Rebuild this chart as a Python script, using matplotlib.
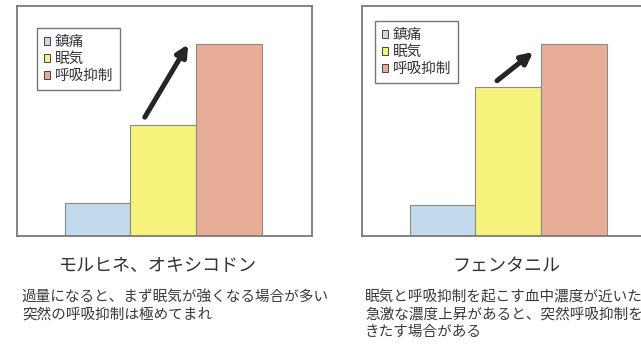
import numpy as np
import matplotlib
matplotlib.use("Agg")
from matplotlib import pyplot as plt

plt.rcParams['font.family'] = ['Noto Sans CJK JP', 'DejaVu Sans']

# data
labels = ['鎮痛', '眠気', '呼吸抑制']
colors = ['#c3daec', '#f7f27c', '#e7ad97']
left_vals = [17, 58, 100]
right_vals = [16, 78, 100]

left_title = 'モルヒネ、オキシコドン'
right_title = 'フェンタニル'
left_caption = '過量になると、まず眠気が強くなる場合が多い\n突然の呼吸抑制は極めてまれ'
right_caption = ('眠気と呼吸抑制を起こす血中濃度が近いため\n'
                 '急激な濃度上昇があると、突然呼吸抑制を\nきたす場合がある')

# arrows (start, end) in data coords
left_arrow = [(0.72, 62), (1.38, 100)]
right_arrow = [(0.83, 81), (1.38, 96)]

fig = plt.figure(figsize=(6.41, 3.45), dpi=100)

def panel(rect, vals, arrow, legend_anchor):
    ax = fig.add_axes(rect)
    x = np.arange(len(vals))
    ax.bar(x, vals, width=1.0, color=colors, edgecolor='#8a8a8a',
           linewidth=0.8, label=labels)
    ax.set_xlim(-1.225, 3.265)
    ax.set_ylim(0, 120)
    ax.set_xticks([])
    ax.set_yticks([])
    for s in ax.spines.values():
        s.set_color('#7a7a7a')
        s.set_linewidth(1.3)
    ax.annotate('', xy=arrow[1], xytext=arrow[0],
                arrowprops=dict(arrowstyle='-|>', color='#252525', lw=3.6,
                                mutation_scale=17, shrinkA=0, shrinkB=0))
    handles = [plt.Rectangle((0, 0), 1, 1, facecolor=c, edgecolor='#444444', lw=0.7)
               for c in colors]
    leg = ax.legend(handles, labels, loc='upper left', bbox_to_anchor=legend_anchor,
                    fontsize=10.5, frameon=True, fancybox=False, handlelength=0.4,
                    handleheight=0.4, handletextpad=0.3, labelspacing=0.2,
                    borderpad=0.5, borderaxespad=0)
    leg.get_frame().set_edgecolor('#555555')
    leg.get_frame().set_linewidth(1.0)
    for t in leg.get_texts():
        t.set_color('#333333')
    return ax

panel([17 / 641, 109 / 345, 295 / 641, 230 / 345], left_vals, left_arrow, (0.068, 0.904))
panel([362 / 641, 109 / 345, 295 / 641, 230 / 345], right_vals, right_arrow, (0.044, 0.935))

fig.text(158 / 641, 1 - 266 / 345, left_title, ha='center', va='center',
         fontsize=13, color='#333333')
fig.text(506 / 641, 1 - 266 / 345, right_title, ha='center', va='center',
         fontsize=13, color='#333333')
fig.text(22 / 641, 1 - 290 / 345, left_caption, ha='left', va='top',
         fontsize=10.5, color='#3a3a3a', linespacing=1.33)
fig.text(365 / 641, 1 - 290 / 345, right_caption, ha='left', va='top',
         fontsize=10.5, color='#3a3a3a', linespacing=1.33)

fig.savefig('out.png', dpi=100)
